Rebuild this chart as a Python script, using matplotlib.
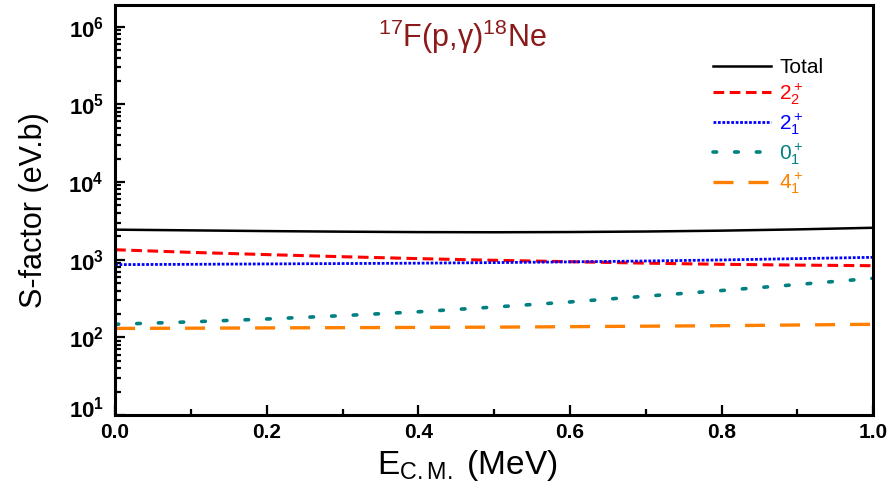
import numpy as np
import matplotlib
matplotlib.use("Agg")
import matplotlib.pyplot as plt
import matplotlib.transforms as mtransforms
from matplotlib.ticker import FixedLocator, FixedFormatter, LogLocator, MultipleLocator

plt.rcParams['font.family'] = ['Liberation Sans', 'DejaVu Sans']
plt.rcParams['mathtext.fontset'] = 'custom'
plt.rcParams['mathtext.rm'] = 'Liberation Sans'
plt.rcParams['mathtext.it'] = 'Liberation Sans:italic'
plt.rcParams['mathtext.bf'] = 'Liberation Sans:bold'

# energy grid (MeV)
e_cm = [0.0, 0.1, 0.2, 0.3, 0.4, 0.5, 0.6, 0.7, 0.8, 0.9, 1.0]

# S-factor components (eV.b)
s_total = [2430, 2380, 2330, 2290, 2260, 2250, 2265, 2300, 2360, 2450, 2570]
s_2p2 = [1340, 1240, 1160, 1090, 1030, 980, 940, 900, 870, 850, 835]
s_2p1 = [862, 870, 880, 890, 900, 915, 935, 960, 990, 1030, 1070]
s_0p1 = [147, 158, 172, 190, 213, 245, 285, 338, 400, 478, 575]
s_4p1 = [130, 131, 132, 133, 134, 135, 137, 139, 141, 144, 147]

labels = ['Total', r'$2^+_2$', r'$2^+_1$', r'$0^+_1$', r'$4^+_1$']
y_ticks = [1e1, 1e2, 1e3, 1e4, 1e5, 1e6]
y_tick_labels = [r'$\mathbf{10^{%d}}$' % k for k in range(1, 7)]

fig = plt.figure(figsize=(8.92, 4.94), dpi=100)
ax = fig.add_axes([0.129, 0.16, 0.850, 0.830])

ax.plot(e_cm, s_total, color='black', lw=1.8, label=labels[0])
ax.plot(e_cm, s_2p2, color='#ff0000', lw=2.2, linestyle=(0, (3.5, 1.8)), label=labels[1])
ax.plot(e_cm, s_2p1, color='#0000ff', lw=2.0, linestyle=(0, (1, 0.6)), label=labels[2])
ax.plot(e_cm, s_0p1, color='#008080', lw=2.6, linestyle=(0, (1, 5)), dash_capstyle='round', label=labels[3])
ax.plot(e_cm, s_4p1, color='#ff8000', lw=2.4, linestyle=(0, (6, 4.5)), label=labels[4])

ax.set_yscale('log')
ax.set_xlim(0, 1.0)
ax.set_ylim(10, 1.9e6)

ax.yaxis.set_major_locator(FixedLocator(y_ticks))
ax.yaxis.set_major_formatter(FixedFormatter(y_tick_labels))
ax.yaxis.set_minor_locator(LogLocator(base=10, subs=np.arange(2, 10), numticks=20))
ax.xaxis.set_major_locator(MultipleLocator(0.2))
ax.xaxis.set_minor_locator(MultipleLocator(0.1))
ax.xaxis.set_major_formatter(matplotlib.ticker.FormatStrFormatter('%.1f'))

ax.tick_params(which='both', direction='in', width=1.6)
ax.tick_params(which='major', length=7)
ax.tick_params(which='minor', length=4)
ax.tick_params(axis='x', labelsize=15, pad=6)
ax.tick_params(axis='y', labelsize=16, pad=8)
ax.tick_params(axis='y', which='both', right=False)
for lab in ax.get_xticklabels():
    lab.set_fontweight('bold')
# lowest y label sits a bit higher, clear of the 0.0 label
ylabs = ax.get_yticklabels()
ylabs[0].set_transform(ylabs[0].get_transform() +
                       mtransforms.ScaledTranslation(0, 8 / 100, fig.dpi_scale_trans))
for sp in ax.spines.values():
    sp.set_linewidth(2.2)

ax.set_xlabel(r'E$_{\mathrm{C.M.}}$ (MeV)', fontsize=24)
ax.xaxis.set_label_coords(0.465, -0.08)
ax.set_ylabel('S-factor (eV.b)', fontsize=22, labelpad=14)

ax.text(0.458, 0.922, r'$^{17}$F(p,γ)$^{18}$Ne', transform=ax.transAxes,
        ha='center', va='center', fontsize=22, color='#8b1a1a')

leg = ax.legend(loc='upper left', bbox_to_anchor=(0.788, 0.87), frameon=False,
                fontsize=15, handlelength=2.8, labelspacing=0.2, handletextpad=0.4,
                borderpad=0, borderaxespad=0, labelcolor='linecolor')

fig.savefig('out.png', dpi=100)
